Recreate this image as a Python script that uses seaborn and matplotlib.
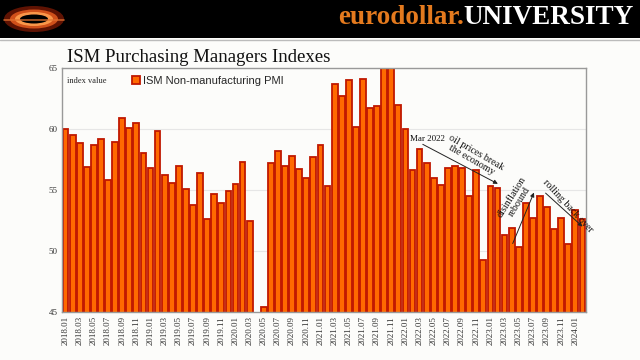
import matplotlib
matplotlib.use("Agg")
import matplotlib.pyplot as plt
from matplotlib.patches import Ellipse, Rectangle
from matplotlib.lines import Line2D
import seaborn as sns
import pandas as pd

# ---- data ----
months = [f"{y}.{m:02d}" for y in range(2018, 2025) for m in range(1, 13)][:74]
pmi_2018 = [60.0, 59.5, 58.85, 56.9, 58.7, 59.2, 55.8, 58.9, 60.9, 60.1, 60.5, 58.0]
pmi_2019 = [56.8, 59.8, 56.2, 55.6, 57.0, 55.1, 53.8, 56.4, 52.6, 54.7, 53.9, 54.9]
pmi_2020 = [55.5, 57.3, 52.5, 41.8, 45.4, 57.2, 58.2, 57.0, 57.8, 56.7, 56.0, 57.7]
pmi_2021 = [58.7, 55.3, 63.7, 62.7, 64.0, 60.2, 64.1, 61.7, 61.9, 66.7, 69.1, 62.0]
pmi_2022 = [60.0, 56.6, 58.4, 57.2, 56.0, 55.4, 56.8, 57.0, 56.8, 54.5, 56.6, 49.3]
pmi_2023 = [55.3, 55.2, 51.3, 51.9, 50.3, 53.9, 52.7, 54.5, 53.6, 51.8, 52.7, 50.6]
pmi_2024 = [53.4, 52.6]
values = pmi_2018 + pmi_2019 + pmi_2020 + pmi_2021 + pmi_2022 + pmi_2023 + pmi_2024
yticks = [45, 50, 55, 60, 65]

df = pd.DataFrame({"month": months, "value": values})

BG = "#FCFCFA"
sns.set_theme(style="white")
plt.rcParams["font.family"] = ["Liberation Serif", "DejaVu Serif"]

fig = plt.figure(figsize=(6.4, 3.6), dpi=100, facecolor=BG)
W, H = 640, 360

# ---- banner ----
fig.patches.append(Rectangle((0, 1 - 38 / H), 1, 38 / H, transform=fig.transFigure,
                             facecolor="black", edgecolor="none", zorder=0))
fig.lines.append(Line2D([0, 1], [1 - 39.5 / H] * 2, transform=fig.transFigure,
                        color="#BBBBBB", lw=1.0))
# logo approximation
for w, h, c, a in [(60, 26, "#6A1604", 0.9), (48, 19, "#D0501A", 1.0), (38, 14, "#FFA050", 0.9),
                   (28, 9, "black", 1.0)]:
    fig.patches.append(Ellipse((34 / W, 1 - 19 / H), w / W, h / H, transform=fig.transFigure,
                               facecolor=c, edgecolor="none", alpha=a))
fig.lines.append(Line2D([4 / W, 64 / W], [1 - 20 / H] * 2, transform=fig.transFigure,
                        color="#E07030", lw=1.2, alpha=0.8))
t_uni = fig.text(634 / W, 1 - 18 / H, "UNIVERSITY", color="white", fontsize=19.5,
                 fontweight="bold", ha="right", va="center")
fig.canvas.draw()
bb = t_uni.get_window_extent()
fig.text(bb.x0 / W, 1 - 18 / H, "eurodollar.", color="#E47A1E", fontsize=19.5,
         fontweight="bold", ha="right", va="center")

# ---- title ----
fig.text(67 / W, 1 - 58 / H, "ISM Purchasing Managers Indexes", fontsize=13.5, color="#111111",
         ha="left", va="center")

# ---- axes ----
ax = fig.add_axes([62 / W, 1 - 312 / H, 524 / W, 244 / H])
ax.set_facecolor(BG)
sns.barplot(data=df, x="month", y="value", color="#FF6A00", saturation=1, width=0.82,
            edgecolor="#C01800", linewidth=1.3, label="ISM Non-manufacturing PMI", ax=ax, zorder=2)

ax.set_ylim(45, 65)
ax.set_xlim(-0.5, len(months) - 0.5)
ax.set_yticks(yticks)
ax.set_yticklabels([str(v) for v in yticks], fontsize=6.5, color="#333333")
ax.set_xticks(range(0, len(months), 2))
ax.set_xticklabels(months[::2], rotation=90, fontsize=6.5, color="#333333")
ax.tick_params(axis="both", length=0, pad=3)
ax.set_xlabel("")
ax.set_ylabel("")
for y in [50, 55, 60]:
    ax.axhline(y, color="#E6E6E6", lw=0.8, zorder=1)
for s in ax.spines.values():
    s.set_color("#999999")
    s.set_linewidth(1.0)

ax.text(0.01, 0.965, "index value", transform=ax.transAxes, fontsize=6, color="#222222",
        ha="left", va="top")
leg = ax.legend(loc="upper left", bbox_to_anchor=(0.115, 1.01), frameon=False,
                handlelength=0.7, handleheight=0.7, handletextpad=0.3,
                prop={"family": "Liberation Sans", "size": 8})

# ---- annotations ----
ax.text(48.7, 59.2, "Mar 2022", fontsize=6.5, ha="left", va="center", color="#111111")
ax.annotate("", xy=(61.4, 55.4), xytext=(50.1, 58.85),
            arrowprops=dict(arrowstyle="-|>", color="#222222", lw=0.7, mutation_scale=6))
ax.text(57.7, 57.75, "oil prices break\nthe economy", fontsize=7.2, rotation=-30,
        ha="center", va="center", rotation_mode="anchor", linespacing=1.0, color="#111111")
ax.annotate("", xy=(66.3, 55.0), xytext=(63.0, 50.4),
            arrowprops=dict(arrowstyle="-|>", color="#222222", lw=0.7, mutation_scale=6))
ax.text(63.5, 54.25, "disinflation\nrebound", fontsize=7.2, rotation=58,
        ha="center", va="center", rotation_mode="anchor", linespacing=1.0, color="#111111")
ax.annotate("", xy=(73.3, 51.85), xytext=(67.5, 54.9),
            arrowprops=dict(arrowstyle="-|>", color="#222222", lw=0.7, mutation_scale=6))
ax.text(70.9, 53.7, "rolling back over", fontsize=7.2, rotation=-47,
        ha="center", va="center", rotation_mode="anchor", color="#111111")

fig.savefig("out.png", dpi=100, facecolor=BG)
